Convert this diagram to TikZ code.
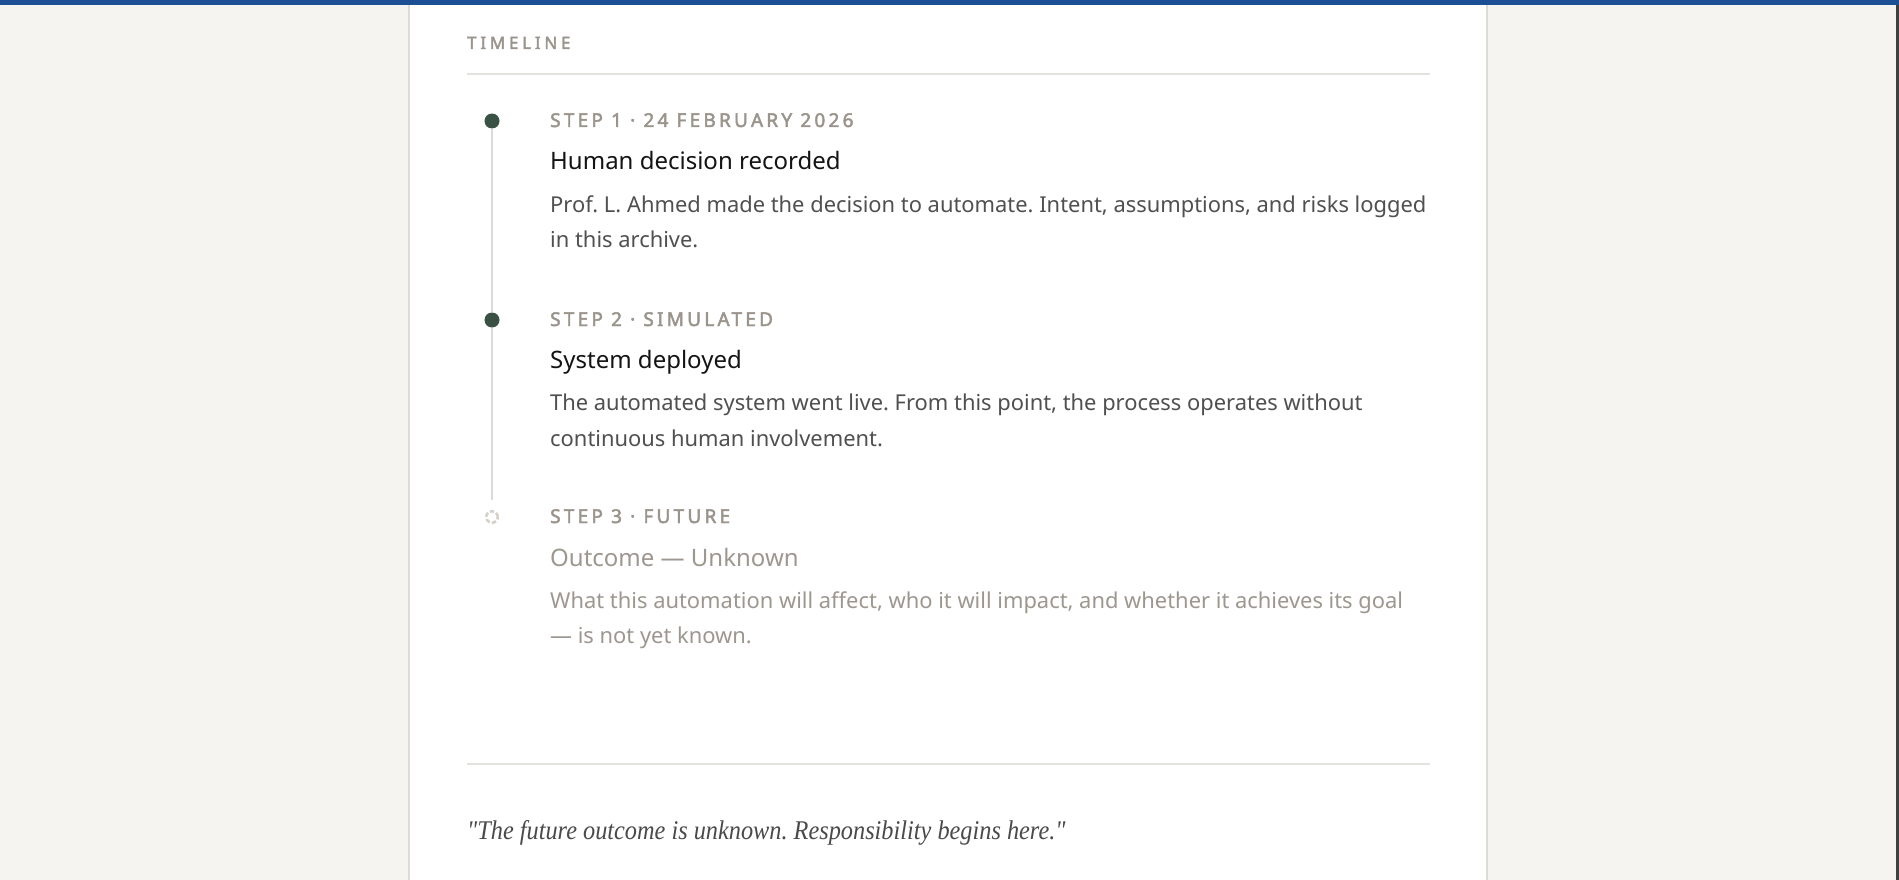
\documentclass[tikz,border=0pt]{standalone}
\usepackage{fontspec}
\newfontfamily\ui{Noto Sans}
\newfontfamily\uilab[LetterSpace=17,FakeBold=2.4]{Noto Sans}
\newfontfamily\uilabt[LetterSpace=22,FakeBold=2.4]{Noto Sans}
\newfontfamily\quotefont[FakeStretch=0.9]{Liberation Serif}
\definecolor{pagebg}{HTML}{F5F4F0}
\definecolor{bluebar}{HTML}{1C4F94}
\definecolor{panelborder}{HTML}{DEDBD6}
\definecolor{rule}{HTML}{E4E2DE}
\definecolor{dotgreen}{HTML}{3A5244}
\definecolor{labgray}{HTML}{9A948C}
\definecolor{titleblack}{HTML}{141414}
\definecolor{bodygray}{HTML}{505050}
\definecolor{futgray}{HTML}{9D978F}
\definecolor{quotegray}{HTML}{4A4A4A}
\definecolor{tline}{HTML}{DCDAD6}
\definecolor{futring}{HTML}{D6D2CB}
\frenchspacing
\begin{document}
\frenchspacing
\begin{tikzpicture}[x=1pt,y=-1pt,
  lab/.style={anchor=base west,inner sep=0pt,text=labgray,font=\uilab\fontsize{19}{22}\selectfont},
  ttl/.style={anchor=base west,inner sep=0pt,text=titleblack,font=\ui\fontsize{24}{28}\selectfont},
  body/.style={anchor=base west,inner sep=0pt,text=bodygray,font=\ui\fontsize{21.9}{26}\selectfont},
  dotfill/.style={circle,fill=dotgreen,minimum size=15pt,inner sep=0pt},
  dotfut/.style={circle,draw=futring,line width=2.6pt,dash pattern=on 4.5pt off 2.2pt,minimum size=11.5pt,inner sep=0pt},
  conn/.style={draw=tline,line width=1.3pt}]
\useasboundingbox (0,0) rectangle (1899,880);
\fill[pagebg] (0,0) rectangle (1899,880);
\fill[white] (409,0) rectangle (1487,880);
\draw[panelborder,line width=1.2pt] (409,0) -- (409,880);
\draw[panelborder,line width=1.2pt] (1487,0) -- (1487,880);
\fill[bluebar] (0,0) rectangle (1899,5);
\fill[black!75] (1896,5) rectangle (1899,880);

\node[lab,font=\uilabt\fontsize{17}{20}\selectfont] (tl) at (467,49) {TIMELINE};
\draw[rule,line width=1.2pt] (467,74) -- (1430,74);

\node[dotfill] (d1) at (492,121) {};
\node[dotfill] (d2) at (492,320) {};
\node[dotfut] (d3) at (492,517) {};
\coordinate (e2) at (492,500);
\draw[conn] (d1) -- (d2);
\draw[conn] (d2) -- (e2);

\node[lab] (s1) at (550,127) {STEP 1 · 24 FEBRUARY 2026};
\node[ttl] (t1) at (550,170) {Human decision recorded};
\node[body] (b1a) at (550,212) {Prof. L. Ahmed made the decision to automate. Intent, assumptions, and risks logged};
\node[body] (b1b) at (550,247) {in this archive.};

\node[lab] (s2) at (550,326) {STEP 2 · SIMULATED};
\node[ttl] (t2) at (550,368) {System deployed};
\node[body] (b2a) at (550,410) {The automated system went live. From this point, the process operates without};
\node[body] (b2b) at (550,446) {continuous human involvement.};

\node[lab] (s3) at (550,523) {STEP 3 · FUTURE};
\node[ttl,text=futgray] (t3) at (550,566) {Outcome — Unknown};
\node[body,text=futgray] (b3a) at (550,608) {What this automation will affect, who it will impact, and whether it achieves its goal};
\node[body,text=futgray] (b3b) at (550,643) {— is not yet known.};

\draw[rule,line width=1.2pt] (467,764) -- (1430,764);
\node[anchor=base west,inner sep=0pt,text=quotegray,font=\quotefont\itshape\fontsize{27}{32}\selectfont] (q) at (467,839) {\symbol{34}The future outcome is unknown. Responsibility begins here.\symbol{34}};
\end{tikzpicture}
\end{document}
